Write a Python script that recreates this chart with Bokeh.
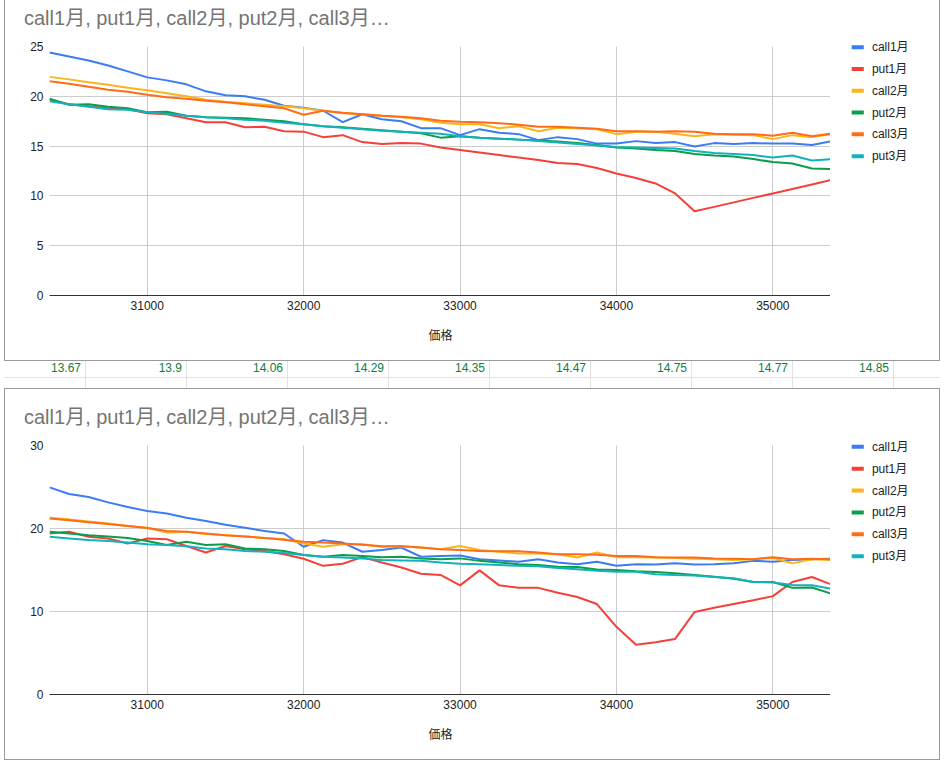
from bokeh.plotting import figure
from bokeh.models import Range1d, Div, FixedTicker, ColumnDataSource
from bokeh.layouts import column, row
from bokeh.embed import file_html
from bokeh.resources import INLINE
from bokeh.core.properties import value

# ---------------- data ----------------
strikes = [30375, 30500, 30625, 30750, 30875, 31000, 31125, 31250, 31375, 31500,
           31625, 31750, 31875, 32000, 32125, 32250, 32375, 32500, 32625, 32750,
           32875, 33000, 33125, 33250, 33375, 33500, 33625, 33750, 33875, 34000,
           34125, 34250, 34375, 34500, 34625, 34750, 34875, 35000, 35125, 35250,
           35375]

series_names = ["call1月", "put1月", "call2月", "put2月", "call3月", "put3月"]
chart_title = "call1月, put1月, call2月, put2月, call3月…"
x_label = "価格"

# top chart
top_call1 = [24.4, 24.0, 23.6, 23.1, 22.5, 21.9, 21.6, 21.2, 20.5, 20.1,
             20.0, 19.65, 19.05, 18.85, 18.55, 17.4, 18.2, 17.7, 17.5, 16.8,
             16.8, 16.1, 16.7, 16.35, 16.2, 15.6, 15.9, 15.7, 15.25, 15.25,
             15.5, 15.3, 15.4, 14.95, 15.3, 15.2, 15.3, 15.25, 15.25, 15.1,
             15.5]
top_put1 = [19.65, 19.2, 19.0, 18.8, 18.7, 18.3, 18.2, 17.8, 17.4, 17.4,
            16.9, 16.95, 16.5, 16.45, 15.9, 16.1, 15.4, 15.2, 15.3, 15.25,
            14.85, 14.6, 14.35, 14.1, 13.85, 13.6, 13.3, 13.2, 12.8, 12.25,
            11.8, 11.25, 10.25, 8.45, 8.9, 9.35, 9.8, 10.25, 10.7, 11.15,
            11.6]
top_call2 = [21.95, 21.7, 21.4, 21.15, 20.85, 20.6, 20.3, 20.0, 19.65, 19.45,
             19.3, 19.15, 19.0, 18.8, 18.55, 18.3, 18.2, 18.05, 17.9, 17.7,
             17.35, 17.2, 17.2, 16.8, 17.0, 16.5, 16.85, 16.8, 16.7, 16.2,
             16.45, 16.45, 16.25, 16.0, 16.2, 16.15, 16.1, 15.7, 16.1, 15.9,
             16.2]
top_put2 = [19.75, 19.15, 19.2, 18.95, 18.8, 18.4, 18.45, 18.05, 17.9, 17.85,
            17.8, 17.65, 17.5, 17.2, 17.0, 16.9, 16.75, 16.6, 16.45, 16.3,
            15.85, 16.0, 15.85, 15.75, 15.65, 15.55, 15.45, 15.3, 15.1, 14.85,
            14.75, 14.6, 14.5, 14.2, 14.05, 13.95, 13.7, 13.4, 13.25, 12.75,
            12.7]
top_call3 = [21.5, 21.25, 20.95, 20.65, 20.45, 20.15, 19.9, 19.75, 19.55, 19.4,
             19.2, 19.0, 18.8, 18.15, 18.55, 18.35, 18.2, 18.05, 17.95, 17.8,
             17.55, 17.45, 17.4, 17.3, 17.15, 16.95, 16.95, 16.85, 16.75, 16.5,
             16.5, 16.45, 16.5, 16.45, 16.25, 16.2, 16.2, 16.05, 16.35, 16.0,
             16.25]
top_put3 = [19.5, 19.2, 18.95, 18.7, 18.65, 18.4, 18.25, 18.05, 17.9, 17.8,
            17.65, 17.55, 17.35, 17.2, 17.0, 16.85, 16.7, 16.55, 16.45, 16.35,
            16.25, 16.0, 15.85, 15.75, 15.65, 15.5, 15.35, 15.2, 15.05, 14.9,
            14.85, 14.8, 14.75, 14.5, 14.3, 14.2, 14.1, 13.85, 14.05, 13.55,
            13.7]

# bottom chart
bot_call1 = [24.95, 24.15, 23.8, 23.15, 22.6, 22.1, 21.8, 21.3, 20.9, 20.45,
             20.1, 19.7, 19.4, 17.8, 18.6, 18.3, 17.2, 17.4, 17.7, 16.6,
             16.7, 16.75, 16.3, 16.15, 16.0, 16.3, 15.9, 15.7, 16.0, 15.5,
             15.7, 15.65, 15.8, 15.65, 15.7, 15.8, 16.1, 16.0, 16.2, 16.3,
             16.35]
bot_put1 = [19.4, 19.6, 19.0, 18.8, 18.2, 18.8, 18.7, 17.9, 17.1, 17.9,
            17.5, 17.3, 16.9, 16.35, 15.5, 15.75, 16.55, 15.9, 15.3, 14.55,
            14.4, 13.15, 14.95, 13.15, 12.85, 12.85, 12.25, 11.75, 10.9, 8.15,
            6.0, 6.3, 6.7, 9.95, 10.45, 10.9, 11.35, 11.85, 13.55, 14.15,
            13.25]
bot_call2 = [21.3, 21.1, 20.85, 20.6, 20.3, 20.1, 19.5, 19.6, 19.35, 19.2,
             19.05, 18.85, 18.7, 18.2, 17.8, 18.1, 18.1, 17.8, 17.85, 17.7,
             17.5, 17.9, 17.4, 17.2, 17.0, 17.0, 16.9, 16.5, 17.1, 16.55,
             16.55, 16.5, 16.45, 16.35, 16.3, 16.2, 16.3, 16.45, 15.8, 16.3,
             16.2]
bot_put2 = [19.6, 19.4, 19.2, 19.05, 18.85, 18.5, 18.0, 18.4, 18.0, 18.1,
            17.6, 17.5, 17.3, 16.8, 16.6, 16.8, 16.7, 16.55, 16.6, 16.4,
            16.3, 16.4, 16.1, 15.9, 15.7, 15.6, 15.4, 15.35, 15.05, 15.0,
            14.85, 14.75, 14.6, 14.4, 14.2, 13.95, 13.55, 13.55, 12.85, 12.9,
            12.15]
bot_call3 = [21.2, 21.0, 20.75, 20.55, 20.3, 20.05, 19.7, 19.6, 19.4, 19.2,
             19.05, 18.85, 18.65, 18.4, 18.3, 18.2, 18.05, 17.85, 17.85, 17.7,
             17.5, 17.4, 17.3, 17.25, 17.25, 17.1, 16.9, 16.9, 16.85, 16.7,
             16.7, 16.55, 16.5, 16.5, 16.4, 16.35, 16.3, 16.55, 16.3, 16.35,
             16.3]
bot_put3 = [19.0, 18.8, 18.6, 18.5, 18.3, 18.1, 18.0, 17.85, 17.6, 17.5,
            17.3, 17.2, 17.05, 16.8, 16.6, 16.5, 16.4, 16.2, 16.15, 16.1,
            15.9, 15.75, 15.7, 15.6, 15.5, 15.45, 15.25, 15.1, 14.9, 14.8,
            14.8, 14.5, 14.4, 14.35, 14.15, 14.0, 13.55, 13.5, 13.2, 13.15,
            12.75]

x_ticks = [31000, 32000, 33000, 34000, 35000]
top_y_ticks = [0, 5, 10, 15, 20, 25]
bot_y_ticks = [0, 10, 20, 30]

cell_values = ["13.67", "13.9", "14.06", "14.29", "14.35", "14.47", "14.75", "14.77", "14.85"]

# ---------------- style ----------------
colors = ["#3b7cf2", "#f5403a", "#fbb51a", "#0c9d4c", "#ff6b18", "#12b2bd"]
FONT = "Liberation Sans, Noto Sans CJK JP"
FRAME = "1px solid #9a9a9a"
GRID = "#cccccc"


def title_block(height, text_top, borders):
    html = ('<div style="position:relative;width:825px;height:%dpx;overflow:hidden;background:white">'
            '<div style="position:absolute;left:19px;top:%dpx;white-space:nowrap;'
            'font-family:Liberation Sans, Noto Sans CJK JP, sans-serif;font-size:20px;'
            'line-height:24px;color:#757575">%s</div></div>') % (height, text_top, chart_title)
    return Div(text=html, width=826, height=height, margin=0, styles=borders)


def chart_figure(series, y_max, y_ticks, height, top_border, borders):
    p = figure(width=826, height=height, output_backend="svg", toolbar_location=None,
               x_range=Range1d(strikes[0], strikes[-1]), y_range=Range1d(0, y_max),
               min_border_left=44, min_border_right=0,
               min_border_top=top_border, min_border_bottom=66,
               styles=borders)
    p.outline_line_color = None
    p.background_fill_color = "white"
    p.border_fill_color = "white"

    for vals, c in zip(series, colors):
        p.line(strikes, vals, line_color=c, line_width=2)

    p.xaxis.ticker = FixedTicker(ticks=x_ticks)
    p.yaxis.ticker = FixedTicker(ticks=y_ticks)
    p.xgrid.ticker = FixedTicker(ticks=x_ticks)
    p.ygrid.ticker = FixedTicker(ticks=y_ticks)
    p.xgrid.grid_line_color = GRID
    p.ygrid.grid_line_color = GRID
    for ax in (p.xaxis, p.yaxis):
        ax.major_tick_line_color = None
        ax.minor_tick_line_color = None
        ax.major_tick_out = 0
        ax.major_tick_in = 0
        ax.minor_tick_out = 0
        ax.major_label_text_font = FONT
        ax.major_label_text_font_size = "12px"
        ax.major_label_text_color = "#222222"
        ax.major_label_standoff = 6
    p.xaxis.major_label_standoff = 5
    p.yaxis.axis_line_color = None
    p.xaxis.axis_line_color = "#333333"
    p.xaxis.axis_label = x_label
    p.xaxis.axis_label_text_font = FONT
    p.xaxis.axis_label_text_font_size = "12px"
    p.xaxis.axis_label_text_font_style = "normal"
    p.xaxis.axis_label_text_color = "#222222"
    p.xaxis.axis_label_standoff = 16
    return p


def legend_figure(height, canvas_h, first_row, borders):
    # pixel-like data space: x to the right, y downward from the canvas top
    lg = figure(width=110, height=height, output_backend="svg", toolbar_location=None,
                x_range=Range1d(0, 109), y_range=Range1d(canvas_h, 0),
                min_border=0, min_border_left=0, min_border_right=0,
                min_border_top=0, min_border_bottom=0, styles=borders)
    lg.axis.visible = False
    lg.grid.visible = False
    lg.outline_line_color = None
    lg.background_fill_color = "white"
    lg.border_fill_color = "white"
    rows_y = [first_row + 21.75 * i for i in range(len(series_names))]
    src = ColumnDataSource(dict(y=rows_y, x0=[21] * len(rows_y), x1=[33] * len(rows_y),
                                xt=[41] * len(rows_y), name=series_names, color=colors))
    lg.segment(x0="x0", y0="y", x1="x1", y1="y", line_color="color", line_width=4,
               line_cap="butt", source=src)
    lg.text(x="xt", y="y", text="name", source=src, text_font=value(FONT),
            text_font_size="12px", text_color="#222222", text_baseline="middle",
            text_align="left")
    return lg


# top chart block (its frame's top edge lies above the visible page)
top_block = row(
    column(title_block(36, 6, {"border-left": FRAME}),
           chart_figure([top_call1, top_put1, top_call2, top_put2, top_call3, top_put3],
                        25, top_y_ticks, 325, 10,
                        {"border-left": FRAME, "border-bottom": FRAME}),
           spacing=0),
    legend_figure(361, 360, 46.5, {"border-right": FRAME, "border-bottom": FRAME}),
    spacing=0)

# bottom chart block
bottom_block = row(
    column(title_block(45, 16, {"border-left": FRAME, "border-top": FRAME}),
           chart_figure([bot_call1, bot_put1, bot_call2, bot_put2, bot_call3, bot_put3],
                        30, bot_y_ticks, 327, 12,
                        {"border-left": FRAME, "border-bottom": FRAME}),
           spacing=0),
    legend_figure(372, 370, 57, {"border-right": FRAME, "border-bottom": FRAME,
                                 "border-top": FRAME}),
    spacing=0)

# spreadsheet row between the charts
cells = ['<div style="position:relative;width:936px;height:27px;overflow:hidden;'
         'font-family:Liberation Sans, Arial, sans-serif;background:white">',
         '<div style="position:absolute;left:0;top:16px;width:936px;height:1px;background:#e2e2e2"></div>']
for k, v in enumerate(cell_values):
    bx = 81 + 101 * k
    cells.append('<div style="position:absolute;left:%dpx;top:0;width:1px;height:27px;'
                 'background:#e2e2e2"></div>' % bx)
    cells.append('<div style="position:absolute;left:%dpx;top:0;width:97px;text-align:right;'
                 'font-size:12px;line-height:14px;color:#0b8043">%s</div>' % (bx - 101, v))
cells.append('</div>')
sheet_row = Div(text="".join(cells), width=936, height=27, margin=0)

layout = column(top_block, sheet_row, bottom_block, spacing=0, margin=(0, 0, 0, 4))

open("out.html", "w").write(file_html(layout, INLINE))
